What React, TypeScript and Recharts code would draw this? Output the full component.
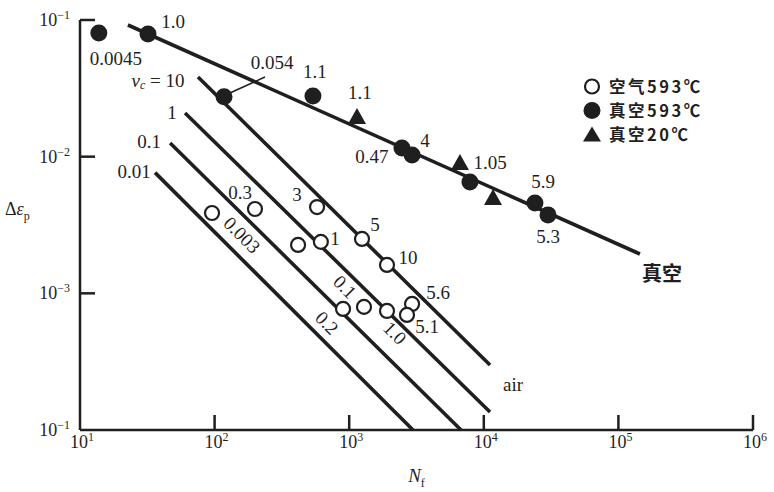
import { ScatterChart, Scatter, XAxis, YAxis, Legend } from 'recharts';

const INK = '#1f1f1f';
const SERIF = "'Liberation Serif', 'DejaVu Serif', serif";
const CJK = "'Noto Sans CJK SC', 'Noto Sans', sans-serif";

// axes (log-log)
const X_TICKS = [10, 100, 1000, 10000, 100000, 1000000];
const X_TICK_EXP = ['1', '2', '3', '4', '5', '6'];
const Y_TICKS = [0.0001, 0.001, 0.01, 0.1];
const Y_TICK_EXP = ['−1', '−3', '−2', '−1']; // bottom label printed as 10^-1 in the source

// fitted lines
const VACUUM_LINE = [{ x: 22.7, y: 0.0919 }, { x: 144500, y: 0.00194 }];
const AIR_NU_10 = [{ x: 75.3, y: 0.0383 }, { x: 11120, y: 0.000299 }];
const AIR_NU_1 = [{ x: 60.3, y: 0.0209 }, { x: 11120, y: 0.0001355 }];
const AIR_NU_01 = [{ x: 46.7, y: 0.01259 }, { x: 6775, y: 0.0001 }];
const AIR_NU_001 = [{ x: 36.1, y: 0.00764 }, { x: 2978, y: 0.0001 }];
const LEADER_0054 = [{ x: 130, y: 0.02924 }, { x: 236.6, y: 0.0383 }];

// measured points
const VACUUM_593 = [
  { x: 13.8, y: 0.0803 },
  { x: 32.0, y: 0.079 },
  { x: 117.5, y: 0.0274 },
  { x: 538, y: 0.0278 },
  { x: 2466, y: 0.01159 },
  { x: 2931, y: 0.01028 },
  { x: 7890, y: 0.00653 },
  { x: 23990, y: 0.00458 },
  { x: 29990, y: 0.00375 },
];
const VACUUM_20 = [
  { x: 1143, y: 0.0195 },
  { x: 6650, y: 0.009 },
  { x: 11700, y: 0.00499 },
];
const AIR_593 = [
  { x: 95.7, y: 0.00387 },
  { x: 199.5, y: 0.00414 },
  { x: 417, y: 0.00226 },
  { x: 616, y: 0.00238 },
  { x: 577, y: 0.00428 },
  { x: 1245, y: 0.0025 },
  { x: 1909, y: 0.001614 },
  { x: 900, y: 0.000769 },
  { x: 1288, y: 0.000796 },
  { x: 1909, y: 0.000743 },
  { x: 2931, y: 0.000836 },
  { x: 2687, y: 0.000695 },
];

// frequency labels next to points
const POINT_LABELS = [
  { text: '0.0045', x: 18.5, y: 0.0527 },
  { text: '1.0', x: 49.1, y: 0.0967 },
  { text: '0.054', x: 267, y: 0.0485 },
  { text: '1.1', x: 557, y: 0.0417 },
  { text: '1.1', x: 1202, y: 0.0297 },
  { text: '0.47', x: 1476, y: 0.00995 },
  { text: '4', x: 3656, y: 0.01324 },
  { text: '1.05', x: 11120, y: 0.009 },
  { text: '5.9', x: 27540, y: 0.00653 },
  { text: '5.3', x: 30000, y: 0.00259 },
  { text: '0.3', x: 154.5, y: 0.00543 },
  { text: '3', x: 409, y: 0.00525 },
  { text: '1', x: 783, y: 0.00254 },
  { text: '5', x: 1556, y: 0.00317 },
  { text: '10', x: 2735, y: 0.001816 },
  { text: '5.6', x: 4571, y: 0.001007 },
  { text: '5.1', x: 3787, y: 0.000568 },
  { text: 'air', x: 16480, y: 0.000214 },
];
const LINE_LABELS = [
  { text: 'ν_c = 10', x: 38.0, y: 0.0364 },
  { text: '1', x: 48.3, y: 0.0209 },
  { text: '0.1', x: 32.6, y: 0.01282 },
  { text: '0.01', x: 25.2, y: 0.00773 },
];
const ROTATED_LABELS = [
  { text: '0.003', x: 159.7, y: 0.00267 },
  { text: '0.1', x: 931, y: 0.001114 },
  { text: '0.2', x: 684, y: 0.000608 },
  { text: '1.0', x: 2188, y: 0.000513 },
];
const CJK_LABELS = [{ text: '真空', x: 210900, y: 0.00141 }];

const LEGEND_ITEMS = [
  { name: '空气593℃', kind: 'open' },
  { name: '真空593℃', kind: 'filled' },
  { name: '真空20℃', kind: 'triangle' },
];

const Blank = () => <g />;

const FilledDot = (p: any) => <circle cx={p.cx} cy={p.cy} r={8.5} fill={INK} />;
const OpenDot = (p: any) => (
  <circle cx={p.cx} cy={p.cy} r={7} fill="#fff" stroke={INK} strokeWidth={2.2} />
);
const Triangle = (p: any) => (
  <polygon
    points={`${p.cx},${p.cy - 9} ${p.cx - 9},${p.cy + 7} ${p.cx + 9},${p.cy + 7}`}
    fill={INK}
  />
);

const PlainLabel = (p: any) => {
  const t: string = p.payload.text;
  const parts = t.split('_');
  return (
    <text
      x={p.cx}
      y={p.cy}
      textAnchor="middle"
      dominantBaseline="central"
      fontFamily={SERIF}
      fontSize={19}
      fill={INK}
    >
      {parts.length > 1 ? (
        <>
          <tspan fontStyle="italic">{parts[0]}</tspan>
          <tspan fontStyle="italic" fontSize={12} dy={5}>{parts[1].charAt(0)}</tspan>
          <tspan dy={-5}>{parts[1].slice(1)}</tspan>
        </>
      ) : (
        t
      )}
    </text>
  );
};

const RotatedLabel = (p: any) => (
  <text
    x={p.cx}
    y={p.cy}
    textAnchor="middle"
    dominantBaseline="central"
    fontFamily={SERIF}
    fontSize={19}
    fill={INK}
    transform={`rotate(45 ${p.cx} ${p.cy})`}
  >
    {p.payload.text}
  </text>
);

const CjkLabel = (p: any) => (
  <text
    x={p.cx}
    y={p.cy}
    textAnchor="middle"
    dominantBaseline="central"
    fontFamily={CJK}
    fontWeight={700}
    fontSize={20}
    fill={INK}
  >
    {p.payload.text}
  </text>
);

const XTick = (p: any) => {
  const i = X_TICKS.indexOf(p.payload.value);
  return (
    <g>
      {i > 0 && <line x1={p.x} y1={p.y} x2={p.x} y2={p.y - 15} stroke={INK} strokeWidth={2.5} />}
      <text x={p.x + 2} y={p.y + 18} textAnchor="middle" fontFamily={SERIF} fontSize={18} fill={INK}>
        <tspan>10</tspan>
        <tspan dy={-7} fontSize={12}>{X_TICK_EXP[i]}</tspan>
      </text>
    </g>
  );
};

const YTick = (p: any) => {
  const i = Y_TICKS.indexOf(p.payload.value);
  return (
    <g>
      {i > 0 && <line x1={p.x} y1={p.y} x2={p.x + 15} y2={p.y} stroke={INK} strokeWidth={2.5} />}
      <text x={p.x - 10} y={p.y + 6} textAnchor="end" fontFamily={SERIF} fontSize={18} fill={INK}>
        <tspan>10</tspan>
        <tspan dy={-7} fontSize={12}>{Y_TICK_EXP[i]}</tspan>
      </text>
    </g>
  );
};

const XTitle = (p: any) => {
  const vb = p.viewBox;
  return (
    <text x={vb.x + vb.width / 2} y={vb.y + 52} textAnchor="middle" fontFamily={SERIF} fontSize={19} fill={INK}>
      <tspan fontStyle="italic">N</tspan>
      <tspan fontSize={12} dy={5}>f</tspan>
    </text>
  );
};

const YTitle = (p: any) => {
  const vb = p.viewBox;
  return (
    <text x={vb.x + 5} y={vb.y + 195} fontFamily={SERIF} fontSize={18} fill={INK}>
      <tspan>Δ</tspan>
      <tspan fontStyle="italic">ε</tspan>
      <tspan fontSize={12} dy={5}>p</tspan>
    </text>
  );
};

// one small svg per legend row; row height fits the CJK font's full line box
const LegendBox = () => (
  <div style={{ color: INK }}>
    {LEGEND_ITEMS.map((it) => (
      <svg key={it.name} width={130} height={24} style={{ display: 'block' }}>
        {it.kind === 'open' && <circle cx={10} cy={12.5} r={7} fill="#fff" stroke={INK} strokeWidth={2.2} />}
        {it.kind === 'filled' && <circle cx={10} cy={12.5} r={8.5} fill={INK} />}
        {it.kind === 'triangle' && <polygon points="10,4.5 1,19.5 19,19.5" fill={INK} />}
        <text x={27} y={19.2} fontFamily={CJK} fontWeight={700} fontSize={16.5} letterSpacing={2.5} fill={INK}>
          {it.name}
        </text>
      </svg>
    ))}
  </div>
);

const lineStyle = { stroke: INK, strokeWidth: 3.6 };

export default function App() {
  return (
    <div style={{ position: 'absolute', left: 0, top: 0, background: '#fff' }}>
      <ScatterChart width={774} height={492} margin={{ top: 20, right: 21, bottom: 0, left: 0 }}>
        <XAxis
          type="number"
          dataKey="x"
          scale="log"
          domain={[10, 1000000]}
          ticks={X_TICKS}
          interval={0}
          height={62}
          tickSize={0}
          tickMargin={0}
          tickLine={false}
          axisLine={{ stroke: INK, strokeWidth: 2.5 }}
          tick={<XTick />}
          label={<XTitle />}
        />
        <YAxis
          type="number"
          dataKey="y"
          scale="log"
          domain={[0.0001, 0.1]}
          ticks={Y_TICKS}
          interval={0}
          width={80}
          tickSize={0}
          tickMargin={0}
          tickLine={false}
          axisLine={{ stroke: INK, strokeWidth: 2.5 }}
          tick={<YTick />}
          label={<YTitle />}
        />
        <Legend
          layout="vertical"
          align="center"
          verticalAlign="middle"
          content={<LegendBox />}
          wrapperStyle={{ left: 582, top: 73.5, width: 'auto', height: 'auto' }}
        />

        <Scatter data={VACUUM_LINE} line={lineStyle} shape={<Blank />} isAnimationActive={false} legendType="none" />
        <Scatter data={AIR_NU_10} line={lineStyle} shape={<Blank />} isAnimationActive={false} legendType="none" />
        <Scatter data={AIR_NU_1} line={lineStyle} shape={<Blank />} isAnimationActive={false} legendType="none" />
        <Scatter data={AIR_NU_01} line={lineStyle} shape={<Blank />} isAnimationActive={false} legendType="none" />
        <Scatter data={AIR_NU_001} line={lineStyle} shape={<Blank />} isAnimationActive={false} legendType="none" />
        <Scatter
          data={LEADER_0054}
          line={{ stroke: INK, strokeWidth: 1.5 }}
          shape={<Blank />}
          isAnimationActive={false}
          legendType="none"
        />

        <Scatter data={AIR_593} shape={OpenDot} isAnimationActive={false} />
        <Scatter data={VACUUM_593} shape={FilledDot} isAnimationActive={false} />
        <Scatter data={VACUUM_20} shape={Triangle} isAnimationActive={false} />

        <Scatter data={POINT_LABELS} shape={PlainLabel} isAnimationActive={false} legendType="none" />
        <Scatter data={LINE_LABELS} shape={PlainLabel} isAnimationActive={false} legendType="none" />
        <Scatter data={ROTATED_LABELS} shape={RotatedLabel} isAnimationActive={false} legendType="none" />
        <Scatter data={CJK_LABELS} shape={CjkLabel} isAnimationActive={false} legendType="none" />
      </ScatterChart>
    </div>
  );
}
